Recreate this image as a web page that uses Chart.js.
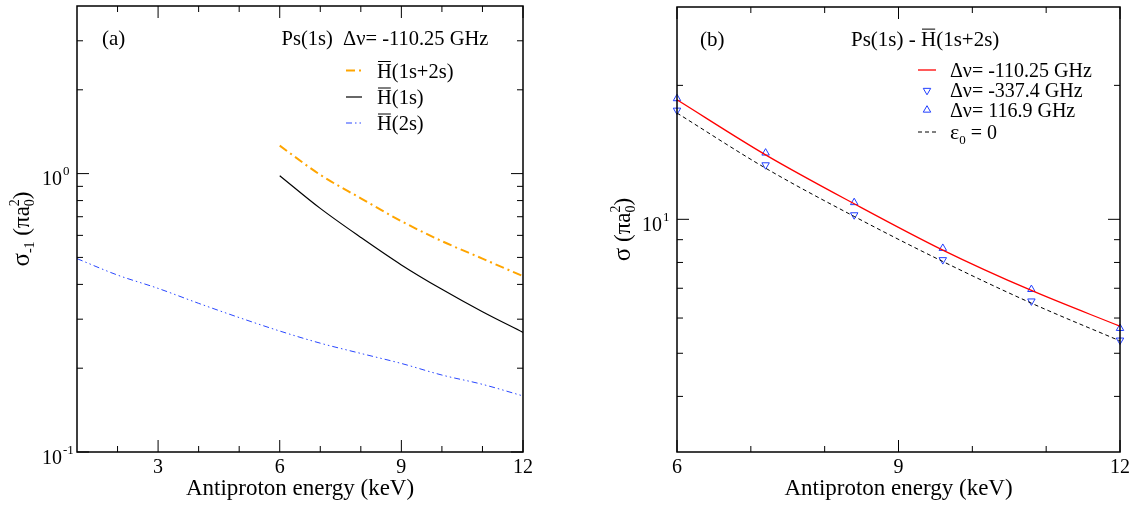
<!DOCTYPE html>
<html>
<head>
<meta charset="utf-8">
<script src="https://cdn.jsdelivr.net/npm/chart.js@4.4.0/dist/chart.umd.min.js"></script>
<style>
  body { margin: 0; background: #fff; }
  canvas { position: absolute; top: 0; }
</style>
</head>
<body>
<canvas id="chart-a" width="567" height="507" style="left:0"></canvas>
<canvas id="chart-b" width="567" height="507" style="left:567px"></canvas>
<script>
// panel (a): sigma_-1 vs antiproton energy
const energyA = [6, 7, 8, 9, 10, 11, 12];
const energy2s = [1, 2, 3, 4, 5, 6, 7, 8, 9, 10, 11, 12];
const sigma1s2s = [1.26, 0.99, 0.815, 0.675, 0.572, 0.495, 0.428];
const sigma1s = [0.983, 0.75, 0.59, 0.47, 0.384, 0.319, 0.269];
const sigma2s = [0.495, 0.432, 0.387, 0.342, 0.304, 0.272, 0.246, 0.226, 0.208, 0.189, 0.175, 0.159];
const xMajorA = [3, 6, 9, 12];
const xMinorA = [2, 4, 5, 7, 8, 10, 11];
const yMajorA = [0.1, 1];
const yMinorA = [0.2, 0.3, 0.4, 0.5, 0.6, 0.7, 0.8, 0.9, 2, 3];

// panel (b): sigma vs antiproton energy, Ps(1s) - Hbar(1s+2s)
const energyB = [6, 7.2, 8.4, 9.6, 10.8, 12];
const sigmaRed = [18.56, 13.96, 10.84, 8.53, 6.92, 5.75];
const sigmaDown = [17.58, 13.25, 10.23, 8.11, 6.55, 5.35];
const sigmaUp = [18.68, 14.10, 10.91, 8.61, 6.96, 5.69];
const sigmaEps0 = [17.33, 13.03, 10.15, 8.04, 6.48, 5.33];
const xMajorB = [6, 9, 12];
const xMinorB = [7, 8, 10, 11];
const yMajorB = [10];
const yMinorB = [4, 5, 6, 7, 8, 9, 20];

const FONT = '"Liberation Serif", "Times New Roman", serif';
Chart.defaults.font.family = FONT;
Chart.defaults.color = '#000';

const pts = (xs, ys) => xs.map((x, i) => ({ x, y: ys[i] }));

// draw a run of text pieces (sub/superscripts, overbars)
function rich(ctx, x, y, parts, measureOnly, base) {
  let cx = x;
  parts.forEach(p => {
    const size = p.size || base || 20;
    ctx.font = `${size}px ${FONT}`;
    const w = ctx.measureText(p.t).width;
    if (!measureOnly) {
      ctx.fillText(p.t, cx, y + (p.dy || 0));
      if (p.bar) {
        const by = y + (p.dy || 0) - size * 0.78;
        ctx.beginPath();
        ctx.lineWidth = 1;
        ctx.moveTo(cx + 1, by);
        ctx.lineTo(cx + w - 1, by);
        ctx.stroke();
      }
    }
    cx += p.adv === undefined ? w : p.adv;
  });
  return cx - x;
}

function axisPlugin(xMajor, xMinor, yMajor, yMinor, yTitle, yTitleX) {
  return {
    id: 'axes',
    afterDatasetsDraw(chart) {
      const { ctx, chartArea: a, scales: { x, y } } = chart;
      ctx.save();
      ctx.strokeStyle = '#000';
      ctx.fillStyle = '#000';
      ctx.lineWidth = 1;
      const seg = (x1, y1, x2, y2) => {
        ctx.beginPath(); ctx.moveTo(x1, y1); ctx.lineTo(x2, y2); ctx.stroke();
      };
      const xt = (vals, len) => vals.forEach(v => {
        const px = x.getPixelForValue(v);
        seg(px, a.bottom, px, a.bottom - len);
        seg(px, a.top, px, a.top + len);
      });
      const yt = (vals, len) => vals.forEach(v => {
        const py = y.getPixelForValue(v);
        seg(a.left, py, a.left + len, py);
        seg(a.right, py, a.right - len, py);
      });
      xt(xMajor, 12); xt(xMinor, 6);
      yt(yMajor, 12); yt(yMinor, 6);
      ctx.lineWidth = 1.5;
      ctx.strokeRect(a.left, a.top, a.right - a.left, a.bottom - a.top);

      // decade labels 10^n
      yMajor.forEach(v => {
        const py = y.getPixelForValue(v);
        ctx.font = `20px ${FONT}`;
        ctx.textAlign = 'right';
        ctx.fillText('10', a.left - 15, py + 11.5);
        ctx.font = `13px ${FONT}`;
        ctx.textAlign = 'left';
        ctx.fillText(String(Math.round(Math.log10(v))), a.left - 14, py + 1.5);
      });

      // rotated y title
      ctx.textAlign = 'left';
      const w = rich(ctx, 0, 0, yTitle, true);
      ctx.translate(yTitleX, (a.top + a.bottom) / 2);
      ctx.rotate(-Math.PI / 2);
      rich(ctx, -w / 2, 0, yTitle);
      ctx.restore();
    }
  };
}

function textPlugin(items, legend) {
  return {
    id: 'texts',
    afterDraw(chart) {
      const ctx = chart.ctx;
      ctx.save();
      ctx.fillStyle = '#000';
      ctx.strokeStyle = '#000';
      ctx.textAlign = 'left';
      items.forEach(it => rich(ctx, it.x, it.y, it.parts, false, it.size));
      legend.rows.forEach(r => {
        const ds = chart.data.datasets[r.ds];
        if (r.marker) {
          ctx.save();
          ctx.strokeStyle = ds.pointBorderColor;
          ctx.fillStyle = 'rgba(0,0,0,0)';
          ctx.lineWidth = ds.pointBorderWidth;
          Chart.helpers.drawPoint(ctx, {
            pointStyle: ds.pointStyle, rotation: ds.pointRotation || 0,
            radius: ds.pointRadius, borderWidth: ds.pointBorderWidth
          }, (legend.x1 + legend.x2) / 2, r.y);
          ctx.restore();
        } else {
          ctx.save();
          ctx.strokeStyle = ds.borderColor;
          ctx.lineWidth = ds.borderWidth;
          ctx.setLineDash(ds.borderDash || []);
          ctx.beginPath();
          ctx.moveTo(legend.x1, r.y);
          ctx.lineTo(legend.x2, r.y);
          ctx.stroke();
          ctx.restore();
        }
        rich(ctx, legend.tx, r.y + legend.dy, r.parts, false, legend.size);
      });
      ctx.restore();
    }
  };
}

function options(cfg) {
  return {
    responsive: false,
    animation: false,
    devicePixelRatio: 1,
    layout: { padding: { left: 0, right: cfg.padRight, top: cfg.top, bottom: 0 } },
    plugins: { legend: { display: false }, tooltip: { enabled: false } },
    scales: {
      x: {
        type: 'linear', min: cfg.xMin, max: cfg.xMax,
        grid: { display: false, drawTicks: false },
        border: { display: false },
        afterBuildTicks: s => { s.ticks = cfg.xMajor.map(v => ({ value: v })); },
        afterFit: s => { s.height = 507 - cfg.bottom; },
        ticks: { font: { size: 20 }, color: '#000', padding: 4, maxRotation: 0, autoSkip: false },
        title: {
          display: true, text: 'Antiproton energy (keV)', color: '#000',
          font: { size: 23 }, padding: { top: 0, bottom: 4 }
        }
      },
      y: {
        type: 'logarithmic', min: cfg.yMin, max: cfg.yMax,
        grid: { display: false, drawTicks: false },
        border: { display: false },
        ticks: { display: false },
        afterFit: s => { s.width = cfg.left; }
      }
    }
  };
}

const lineDs = (data, color, width, dash) => ({
  data, borderColor: color, borderWidth: width, borderDash: dash,
  pointRadius: 0, fill: false, cubicInterpolationMode: 'monotone'
});
const markerDs = (data, rotation) => ({
  data, showLine: false, pointStyle: 'triangle', pointRotation: rotation,
  pointRadius: 4.3, pointBorderWidth: 1, pointBorderColor: '#1f3dff',
  pointBackgroundColor: 'rgba(0,0,0,0)', clip: false
});

const ORANGE = '#ffa500';
const BLUE = 'rgb(40,70,255)';

// ---------- panel (a)
const titleA = [
  { t: 'σ', size: 25 }, { t: '-1', size: 14, dy: 5 }, { t: ' (π', size: 23 }, { t: 'a', size: 23 },
  { t: '0', size: 14, dy: 5, adv: 0 }, { t: '2', size: 14, dy: -10 }, { t: ')', size: 23 }
];
new Chart(document.getElementById('chart-a'), {
  type: 'line',
  data: {
    datasets: [
      lineDs(pts(energyA, sigma1s2s), ORANGE, 2, [9, 4, 2, 4]),
      lineDs(pts(energyA, sigma1s), '#000', 1.2, []),
      lineDs(pts(energy2s, sigma2s), BLUE, 1, [6, 3, 1.5, 3, 1.5, 3])
    ]
  },
  options: options({ left: 77, padRight: 44, top: 6, bottom: 452, xMin: 1, xMax: 12, yMin: 0.1, yMax: 4, xMajor: xMajorA }),
  plugins: [
    axisPlugin(xMajorA, xMinorA, yMajorA, yMinorA, titleA, 29),
    textPlugin([
      { x: 102, y: 44.5, size: 21, parts: [{ t: '(a)' }] },
      { x: 281.5, y: 45, size: 20.5, parts: [{ t: 'Ps(1s)  Δν= -110.25 GHz' }] }
    ], {
      x1: 346, x2: 362, tx: 377, dy: 7, size: 20.5,
      rows: [
        { ds: 0, y: 70.5, parts: [{ t: 'H', bar: true }, { t: '(1s+2s)' }] },
        { ds: 1, y: 97, parts: [{ t: 'H', bar: true }, { t: '(1s)' }] },
        { ds: 2, y: 123, parts: [{ t: 'H', bar: true }, { t: '(2s)' }] }
      ]
    })
  ]
});

// ---------- panel (b)
const titleB = [
  { t: 'σ', size: 25 }, { t: ' (π', size: 23 }, { t: 'a', size: 23 },
  { t: '0', size: 14, dy: 5, adv: 0 }, { t: '2', size: 14, dy: -10 }, { t: ')', size: 23 }
];
new Chart(document.getElementById('chart-b'), {
  type: 'line',
  data: {
    datasets: [
      lineDs(pts(energyB, sigmaRed), '#ff0000', 1.3, []),
      lineDs(pts(energyB, sigmaEps0), '#000', 1, [4, 3]),
      markerDs(pts(energyB, sigmaDown), 180),
      markerDs(pts(energyB, sigmaUp), 0)
    ]
  },
  options: options({ left: 110, padRight: 14, top: 7, bottom: 452, xMin: 6, xMax: 12, yMin: 3, yMax: 30, xMajor: xMajorB }),
  plugins: [
    axisPlugin(xMajorB, xMinorB, yMajorB, yMinorB, titleB, 63),
    textPlugin([
      { x: 133, y: 45.5, size: 21, parts: [{ t: '(b)' }] },
      { x: 284, y: 45.5, size: 21, parts: [{ t: 'Ps(1s) - ' }, { t: 'H', bar: true }, { t: '(1s+2s)' }] }
    ], {
      x1: 351, x2: 369, tx: 383, dy: 6.5, size: 20,
      rows: [
        { ds: 0, y: 70, parts: [{ t: 'Δν= -110.25 GHz' }] },
        { ds: 2, y: 90.5, marker: true, parts: [{ t: 'Δν= -337.4 GHz' }] },
        { ds: 3, y: 110, marker: true, parts: [{ t: 'Δν= 116.9 GHz' }] },
        { ds: 1, y: 132, parts: [{ t: 'ε', size: 22 }, { t: '0', size: 13, dy: 5 }, { t: ' = 0' }] }
      ]
    })
  ]
});
</script>
</body>
</html>
